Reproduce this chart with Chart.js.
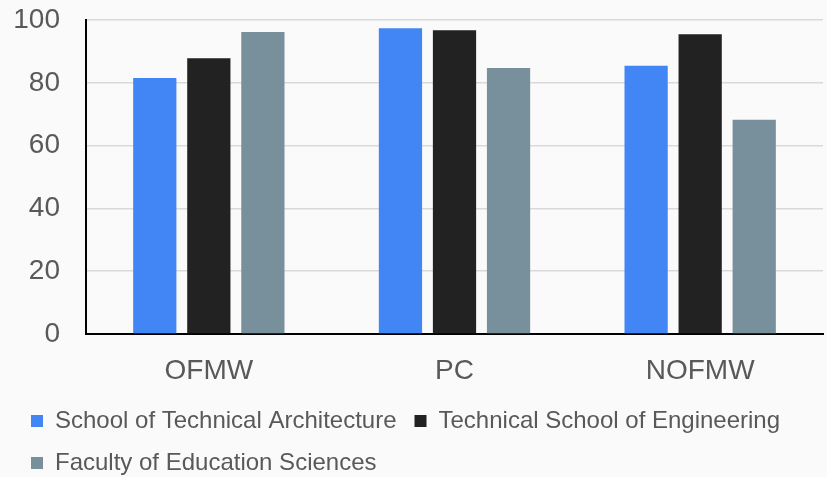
<!DOCTYPE html>
<html>
<head>
<meta charset="utf-8">
<script src="https://cdn.jsdelivr.net/npm/chart.js@4.4.1/dist/chart.umd.min.js"></script>
<style>
  html, body { margin: 0; padding: 0; background: #fafafa; overflow: hidden; }
  #wrap { width: 827px; height: 485px; position: relative; }
</style>
</head>
<body>
<div id="wrap"><canvas id="chart"></canvas></div>
<script>
const categories = ["OFMW", "PC", "NOFMW"];
const architecture = [81.5, 97.4, 85.4];
const engineering = [87.8, 96.7, 95.5];
const education = [96.2, 84.7, 68.2];
const seriesNames = [
  "School of Technical Architecture",
  "Technical School of Engineering",
  "Faculty of Education Sciences"
];
const yTicks = [0, 20, 40, 60, 80, 100];

const colors = ["#4285f4", "#222222", "#78909c"];
const textColor = "#595959";
const fontFamily = "Liberation Sans, Arial, sans-serif";

const datasets = [architecture, engineering, education].map((values, i) => ({
  label: seriesNames[i],
  data: values,
  backgroundColor: colors[i],
  borderWidth: 0,
  barPercentage: 0.8,
  categoryPercentage: 0.66,
}));

new Chart(document.getElementById("chart"), {
  type: "bar",
  data: { labels: categories, datasets },
  options: {
    responsive: true,
    maintainAspectRatio: false,
    animation: false,
    layout: { padding: { top: 0, left: 13, right: 4, bottom: 0 } },
    plugins: {
      tooltip: { enabled: false },
      legend: {
        position: "bottom",
        align: "start",
        labels: {
          boxWidth: 12,
          boxHeight: 12,
          padding: 18,
          color: textColor,
          font: { family: fontFamily, size: 24 },
        },
      },
    },
    scales: {
      x: {
        grid: { display: false, drawTicks: false },
        border: { color: "#000000", width: 2 },
        afterFit: (axis) => {
          axis.height = 57;
        },
        ticks: {
          padding: 15,
          color: textColor,
          font: { family: fontFamily, size: 28, lineHeight: 1.57 },
        },
      },
      y: {
        min: 0,
        max: 100,
        afterBuildTicks: (axis) => {
          axis.ticks = yTicks.map((v) => ({ value: v }));
        },
        afterFit: (axis) => {
          // keep tick padding from pushing the plot area down
          axis.width = 73;
          axis.paddingTop = 20;
        },
        grid: { color: "#d9d9d9", lineWidth: 1.5, drawTicks: false },
        border: { color: "#000000", width: 2 },
        ticks: {
          padding: 26,
          color: textColor,
          font: { family: fontFamily, size: 28 },
        },
      },
    },
  },
});
</script>
</body>
</html>
